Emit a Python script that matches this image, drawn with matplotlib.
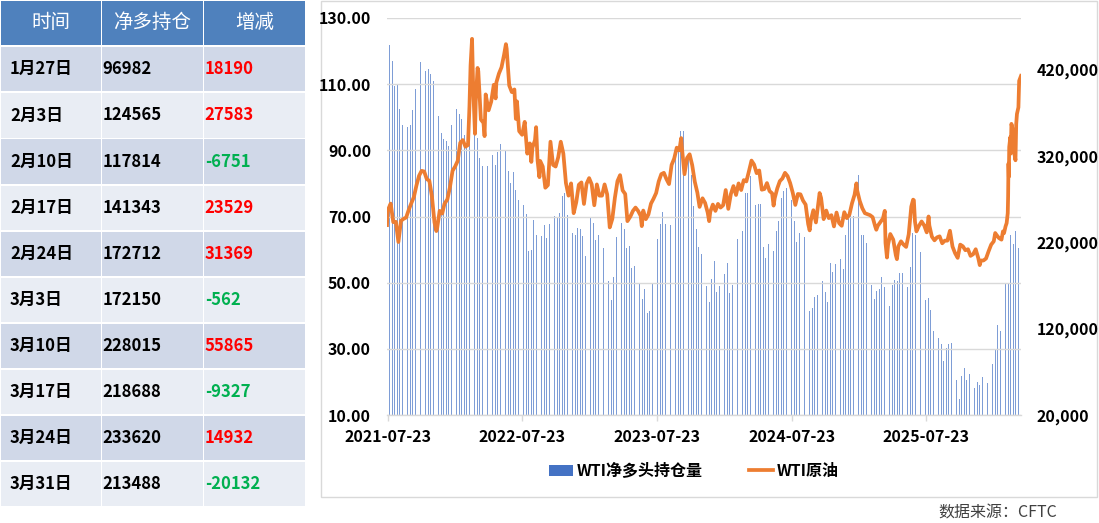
import matplotlib
matplotlib.use('Agg')
import matplotlib.pyplot as plt
from matplotlib.patches import Rectangle, Patch
from matplotlib.lines import Line2D
import pandas as pd

plt.rcParams['font.family'] = ['Noto Sans CJK SC', 'DejaVu Sans']

# ---------------- table data ----------------
table_headers = ['时间', '净多持仓', '增减']
table_dates = ['1月27日', '2月3日', '2月10日', '2月17日', '2月24日',
               '3月3日', '3月10日', '3月17日', '3月24日', '3月31日']
table_net = [96982, 124565, 117814, 141343, 172712,
             172150, 228015, 218688, 233620, 213488]
table_change = [18190, 27583, -6751, 23529, 31369,
                -562, 55865, -9327, 14932, -20132]

# ---------------- chart data ----------------
# weekly CFTC WTI net long (thousand contracts), 2021-07-27 ... 2026-01-20
net_long_hist_k = [
    449, 430, 401, 404, 374, 356, 349, 354, 356, 373,
    398, 404, 429, 423, 419, 421, 415, 407, 386, 367,
    347, 340, 338, 332, 356, 385, 374, 369, 363, 345,
    333, 349, 360, 345, 341, 318, 308, 304, 308, 316,
    321, 310, 325, 334, 332, 326, 303, 289, 301, 281,
    269, 262, 263, 253, 210, 211, 246, 229, 213, 227,
    240, 225, 241,
    258, 251, 249, 254, 274, 277, 252, 239, 231, 229,
    237, 236, 227, 204, 239, 249, 243, 223, 229, 219,
    214, 206, 175, 153, 180, 226, 236, 243, 236, 214,
    216, 190, 193, 162, 173, 154, 166, 138, 141, 173,
    206, 224, 241, 255, 241, 233, 240, 298, 329, 327,
    349, 349, 302, 321, 298, 262, 235, 215, 206, 182,
    169, 151,
    178, 199, 163, 169, 162, 183, 196, 161, 171, 191,
    224, 238, 233, 277, 277, 297, 291, 263, 264, 264,
    215, 202, 218, 243, 210, 233, 245, 271, 279, 283,
    286, 269, 245, 221, 231, 222, 226, 177, 140, 144,
    157, 159, 190, 175, 163, 151, 196, 186, 195, 200,
    201, 189, 229, 247, 252, 251, 305, 298, 229, 229,
    219, 198,
    171, 154, 164, 166, 180, 168, 139, 146, 171, 177,
    175, 185, 185, 165, 168, 192, 231, 229, 229, 209,
    162, 153, 155, 142, 117, 120, 109, 102, 82, 98,
    102, 103, 73, 61, 39, 65, 74, 60, 68, 54,
    51, 58, 55, 64, 64, 57, 57, 78.8,
]
last_report_date = '2026-03-31'

wti_2021 = [
    ("2021-07-20", 67.4), ("2021-07-21", 70.3), ("2021-07-23", 72.1), ("2021-07-30", 73.9),
    ("2021-08-06", 68.3), ("2021-08-13", 68.4), ("2021-08-20", 62.3), ("2021-08-27", 68.7),
    ("2021-09-03", 69.3), ("2021-09-10", 69.7), ("2021-09-17", 72.0), ("2021-09-24", 74.0),
    ("2021-10-01", 75.9), ("2021-10-08", 79.4), ("2021-10-15", 82.3), ("2021-10-22", 83.8),
    ("2021-10-29", 83.6), ("2021-11-05", 81.3), ("2021-11-12", 80.8), ("2021-11-19", 76.1),
    ("2021-11-26", 68.2), ("2021-12-01", 65.6), ("2021-12-03", 66.3), ("2021-12-10", 71.7),
    ("2021-12-17", 70.9), ("2021-12-23", 73.8), ("2021-12-31", 75.2),
]
wti_2022 = [
    ("2022-01-07", 78.9), ("2022-01-14", 83.8), ("2022-01-21", 85.1), ("2022-01-28", 86.8),
    ("2022-02-04", 92.3), ("2022-02-11", 93.1), ("2022-02-18", 91.1), ("2022-02-25", 91.6),
    ("2022-03-01", 103.4), ("2022-03-04", 115.7), ("2022-03-08", 123.7), ("2022-03-11", 109.3),
    ("2022-03-16", 95.0), ("2022-03-18", 104.7), ("2022-03-23", 114.9), ("2022-03-25", 113.9),
    ("2022-04-01", 99.3), ("2022-04-08", 98.3), ("2022-04-11", 94.3), ("2022-04-14", 106.9),
    ("2022-04-22", 102.1), ("2022-04-29", 104.7), ("2022-05-06", 109.8), ("2022-05-11", 105.7),
    ("2022-05-13", 110.5), ("2022-05-20", 113.2), ("2022-05-27", 115.1), ("2022-06-03", 118.9),
    ("2022-06-08", 122.1), ("2022-06-10", 120.7), ("2022-06-17", 109.6), ("2022-06-24", 107.6),
    ("2022-07-01", 108.4), ("2022-07-05", 99.5), ("2022-07-08", 104.8), ("2022-07-14", 95.8),
    ("2022-07-22", 94.7), ("2022-07-29", 98.6), ("2022-08-05", 89.0), ("2022-08-12", 92.1),
    ("2022-08-16", 86.5), ("2022-08-19", 90.8), ("2022-08-26", 93.1), ("2022-08-29", 97.0),
    ("2022-09-02", 86.9), ("2022-09-07", 81.9), ("2022-09-09", 86.8), ("2022-09-16", 85.1),
    ("2022-09-23", 78.7), ("2022-09-30", 79.5), ("2022-10-07", 92.6), ("2022-10-14", 85.6),
    ("2022-10-21", 85.1), ("2022-10-28", 87.9), ("2022-11-04", 92.6), ("2022-11-11", 89.0),
    ("2022-11-18", 80.1), ("2022-11-25", 76.3), ("2022-12-02", 80.0), ("2022-12-09", 71.0),
    ("2022-12-16", 74.3), ("2022-12-23", 79.6), ("2022-12-30", 80.3),
]
wti_2023 = [
    ("2023-01-06", 73.8), ("2023-01-13", 79.9), ("2023-01-20", 81.6), ("2023-01-27", 79.7),
    ("2023-02-03", 73.4), ("2023-02-10", 79.7), ("2023-02-17", 76.3), ("2023-02-24", 76.3),
    ("2023-03-03", 79.7), ("2023-03-10", 76.7), ("2023-03-17", 66.7), ("2023-03-24", 69.3),
    ("2023-03-31", 75.7), ("2023-04-07", 80.7), ("2023-04-14", 82.5), ("2023-04-21", 77.9),
    ("2023-04-28", 76.8), ("2023-05-04", 68.6), ("2023-05-12", 70.0), ("2023-05-19", 71.7),
    ("2023-05-26", 72.7), ("2023-06-02", 71.7), ("2023-06-09", 70.2), ("2023-06-12", 67.1),
    ("2023-06-16", 71.8), ("2023-06-23", 69.2), ("2023-06-30", 70.6), ("2023-07-07", 73.9),
    ("2023-07-14", 75.4), ("2023-07-21", 77.1), ("2023-07-28", 80.6), ("2023-08-04", 82.8),
    ("2023-08-11", 83.2), ("2023-08-18", 81.3), ("2023-08-25", 79.8), ("2023-09-01", 85.6),
    ("2023-09-08", 87.5), ("2023-09-15", 90.8), ("2023-09-22", 90.0), ("2023-09-27", 93.7),
    ("2023-09-29", 90.8), ("2023-10-06", 82.8), ("2023-10-13", 87.7), ("2023-10-20", 88.8),
    ("2023-10-27", 85.5), ("2023-11-03", 80.5), ("2023-11-10", 77.2), ("2023-11-16", 72.9),
    ("2023-11-24", 75.5), ("2023-12-01", 74.1), ("2023-12-08", 71.2), ("2023-12-12", 68.6),
    ("2023-12-15", 71.4), ("2023-12-22", 73.6), ("2023-12-29", 71.7),
]
wti_2024 = [
    ("2024-01-05", 73.8), ("2024-01-12", 72.7), ("2024-01-19", 73.4), ("2024-01-26", 78.0),
    ("2024-02-02", 72.3), ("2024-02-09", 76.8), ("2024-02-16", 79.2), ("2024-02-23", 76.5),
    ("2024-03-01", 80.0), ("2024-03-08", 78.0), ("2024-03-15", 81.0), ("2024-03-22", 80.6),
    ("2024-03-28", 83.2), ("2024-04-05", 86.9), ("2024-04-12", 85.7), ("2024-04-19", 83.1),
    ("2024-04-26", 83.9), ("2024-05-03", 78.1), ("2024-05-10", 78.3), ("2024-05-17", 80.1),
    ("2024-05-24", 77.7), ("2024-05-31", 77.0), ("2024-06-04", 73.3), ("2024-06-07", 75.5),
    ("2024-06-14", 78.5), ("2024-06-21", 80.7), ("2024-06-28", 81.5), ("2024-07-05", 83.2),
    ("2024-07-12", 82.2), ("2024-07-19", 80.1), ("2024-07-26", 77.2), ("2024-08-02", 73.5),
    ("2024-08-09", 76.8), ("2024-08-16", 76.7), ("2024-08-23", 74.8), ("2024-08-30", 73.6),
    ("2024-09-06", 67.7), ("2024-09-10", 65.8), ("2024-09-13", 68.7), ("2024-09-20", 71.9),
    ("2024-09-27", 68.2), ("2024-10-04", 74.4), ("2024-10-07", 77.1), ("2024-10-11", 75.6),
    ("2024-10-18", 69.2), ("2024-10-25", 71.8), ("2024-11-01", 69.5), ("2024-11-08", 70.4),
    ("2024-11-15", 67.0), ("2024-11-22", 71.2), ("2024-11-29", 68.0), ("2024-12-06", 67.2),
    ("2024-12-13", 71.3), ("2024-12-20", 69.5), ("2024-12-27", 70.6),
]
wti_2025 = [
    ("2025-01-03", 74.0), ("2025-01-10", 76.6), ("2025-01-15", 80.0), ("2025-01-17", 77.9),
    ("2025-01-24", 74.7), ("2025-01-31", 72.5), ("2025-02-07", 71.0), ("2025-02-14", 70.7),
    ("2025-02-21", 70.4), ("2025-02-28", 69.8), ("2025-03-07", 67.0), ("2025-03-10", 66.0),
    ("2025-03-14", 67.2), ("2025-03-21", 68.3), ("2025-03-28", 69.4), ("2025-04-02", 71.7),
    ("2025-04-04", 62.0), ("2025-04-08", 57.6), ("2025-04-11", 61.5), ("2025-04-17", 64.7),
    ("2025-04-25", 63.0), ("2025-05-02", 58.3), ("2025-05-05", 57.1), ("2025-05-09", 61.0),
    ("2025-05-16", 62.5), ("2025-05-23", 61.5), ("2025-05-30", 60.8), ("2025-06-06", 64.6),
    ("2025-06-13", 73.0), ("2025-06-18", 75.1), ("2025-06-20", 74.9), ("2025-06-23", 68.5),
    ("2025-06-27", 65.5), ("2025-07-03", 67.0), ("2025-07-11", 68.5), ("2025-07-18", 67.3),
    ("2025-07-25", 65.2), ("2025-07-30", 70.0), ("2025-08-01", 67.3), ("2025-08-08", 63.9),
    ("2025-08-15", 62.8), ("2025-08-22", 63.7), ("2025-08-29", 64.0), ("2025-09-05", 61.9),
    ("2025-09-12", 62.7), ("2025-09-19", 62.7), ("2025-09-26", 65.7), ("2025-10-03", 60.9),
    ("2025-10-10", 58.9), ("2025-10-17", 57.5), ("2025-10-24", 61.5), ("2025-10-31", 61.0),
    ("2025-11-07", 59.8), ("2025-11-14", 60.1), ("2025-11-21", 58.1), ("2025-11-28", 58.6),
    ("2025-12-05", 60.1), ("2025-12-12", 57.4), ("2025-12-16", 55.3), ("2025-12-19", 56.7),
    ("2025-12-26", 56.7),
]
wti_2026 = [
    ("2026-01-02", 57.3), ("2026-01-09", 59.5), ("2026-01-16", 61.5), ("2026-01-23", 62.5),
    ("2026-01-27", 65.0), ("2026-01-30", 64.5), ("2026-02-06", 63.5), ("2026-02-13", 63.0),
    ("2026-02-17", 65.5), ("2026-02-20", 65.0), ("2026-02-24", 67.0), ("2026-02-27", 68.0),
    ("2026-03-02", 71.0), ("2026-03-03", 76.0), ("2026-03-04", 86.0), ("2026-03-05", 82.0),
    ("2026-03-06", 91.0), ("2026-03-09", 94.0), ("2026-03-10", 89.0), ("2026-03-12", 98.0),
    ("2026-03-16", 96.0), ("2026-03-18", 93.0), ("2026-03-20", 89.0), ("2026-03-23", 87.0),
    ("2026-03-25", 98.0), ("2026-03-27", 101.0), ("2026-03-31", 103.0), ("2026-04-02", 111.0),
    ("2026-04-07", 112.5),
]

x_tick_labels = ['2021-07-23', '2022-07-23', '2023-07-23', '2024-07-23', '2025-07-23']
left_ticks = [10, 30, 50, 70, 90, 110, 130]
right_ticks = [20000, 120000, 220000, 320000, 420000]
legend_labels = ['WTI净多头持仓量', 'WTI原油']
source_text = '数据来源：CFTC'

# ---------------- derived series ----------------
net_long = [v * 1000 for v in net_long_hist_k] + table_net
bar_dates = pd.date_range(end=last_report_date, periods=len(net_long), freq='7D')
wti_all = wti_2021 + wti_2022 + wti_2023 + wti_2024 + wti_2025 + wti_2026
price_dates = pd.to_datetime([d for d, _ in wti_all])
price_values = [v for _, v in wti_all]

# ---------------- figure ----------------
W, H = 1099, 523
fig = plt.figure(figsize=(W / 100, H / 100), dpi=100)

bg = fig.add_axes([0, 0, 1, 1])
bg.set_xlim(0, W)
bg.set_ylim(H, 0)
bg.axis('off')
bg.set_zorder(-5)

header_color = '#4F81BD'
row_colors = ['#D0D8E8', '#E9EDF4']
cols = [(0.5, 100.5), (102.3, 202.6), (204.3, 305.0)]
header_top, header_h = 0.5, 44.5
row_top0, row_pitch, row_h = 47.2, 46.1, 44.3

for (x0, x1), txt in zip(cols, table_headers):
    bg.add_patch(Rectangle((x0, header_top), x1 - x0, header_h, facecolor=header_color, edgecolor='none'))
    bg.text((x0 + x1) / 2, header_top + header_h / 2, txt, color='white', fontsize=14,
            ha='center', va='center')

for i, (d, n, c) in enumerate(zip(table_dates, table_net, table_change)):
    top = row_top0 + i * row_pitch
    for (x0, x1) in cols:
        bg.add_patch(Rectangle((x0, top), x1 - x0, row_h, facecolor=row_colors[i % 2], edgecolor='none'))
    yc = top + row_h / 2
    bg.text(cols[0][0] + 9.5, yc, d, fontsize=12, fontweight='bold', ha='left', va='center', color='black')
    bg.text(cols[1][0] + 0.5, yc, str(n), fontsize=12, fontweight='bold', ha='left', va='center', color='black')
    bg.text(cols[2][0] + 0.5, yc, str(c), fontsize=12, fontweight='bold', ha='left', va='center',
            color='#FF0000' if c > 0 else '#00B050')

bg.add_patch(Rectangle((320.5, 0.5), 776.5, 496.5, facecolor='white', edgecolor='#D9D9D9', linewidth=1))
bg.text(938, 513, source_text, fontsize=11.5, color='#404040', ha='left', va='center')

L, R, T, B = 387, 1021, 18, 415
ax = fig.add_axes([L / W, 1 - B / H, (R - L) / W, (B - T) / H])
ax2 = ax.twinx()
ax.set_zorder(ax2.get_zorder() + 1)
ax.patch.set_visible(False)

bars = ax2.bar(bar_dates, net_long, width=2.2, color='#7E9DD6', linewidth=0, align='center')
line, = ax.plot(price_dates, price_values, color='#ED7D31', linewidth=2.7, solid_joinstyle='round')

ax.set_ylim(10, 130)
ax2.set_ylim(20000, 480000)
ax.set_xlim(pd.Timestamp('2021-07-20'), pd.Timestamp('2026-04-07'))

ax.set_yticks(left_ticks)
ax.set_yticklabels([f'{v:.2f}' for v in left_ticks])
ax2.set_yticks(right_ticks)
ax2.set_yticklabels([f'{v:,}' for v in right_ticks])
ax.set_xticks(pd.to_datetime(x_tick_labels))
ax.set_xticklabels(x_tick_labels)

for a in (ax, ax2):
    for s in a.spines.values():
        s.set_visible(False)
ax.spines['bottom'].set_visible(True)
ax.spines['bottom'].set_color('#D9D9D9')
ax.spines['bottom'].set_linewidth(1)

ax.grid(axis='y', color='#D9D9D9', linewidth=1)
ax.tick_params(axis='y', length=0, pad=11.5, labelsize=11.5)
ax2.tick_params(axis='y', length=0, pad=11.5, labelsize=11.5)
ax.tick_params(axis='x', length=4, width=1, color='#D9D9D9', pad=6, labelsize=11.5)
for lab in ax.get_yticklabels() + ax2.get_yticklabels() + ax.get_xticklabels():
    lab.set_fontweight('bold')

handles = [Patch(facecolor='#4472C4', edgecolor='none'),
           Line2D([0], [0], color='#ED7D31', linewidth=2.7)]
leg = fig.legend(handles, legend_labels, loc='center', bbox_to_anchor=(694 / W, 1 - 471 / H),
                 ncol=2, frameon=False, handlelength=1.5, handletextpad=0.25, columnspacing=2.9,
                 prop={'weight': 'bold', 'size': 11.5})

fig.savefig('out.png', dpi=100)
